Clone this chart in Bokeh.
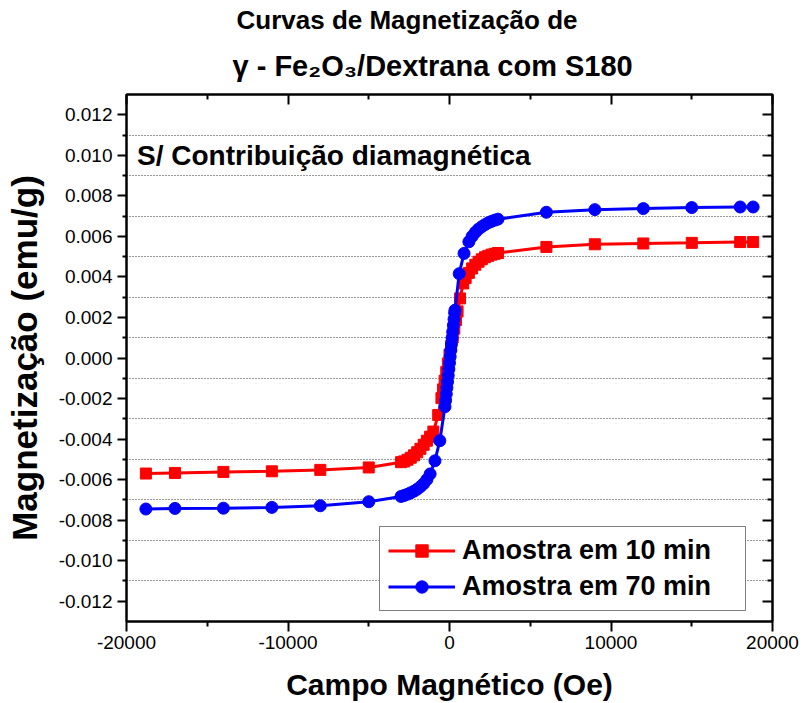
from bokeh.plotting import figure
from bokeh.models import (Range1d, LinearAxis, FixedTicker, PrintfTickFormatter,
                          CustomJSTickFormatter, Legend, LegendItem, Label, Title)
from bokeh.embed import file_html
from bokeh.resources import INLINE

# Magnetisation loops (emu/g vs Oe) for the two samples
field_10 = [-18800, -17000, -14000, -11000, -8000, -5000, -3000, -2800, -2600, -2400,
            -2200, -2000, -1800, -1600, -1400, -1200, -1000, -700, -500, -400, -300,
            -200, -100, 0, 100, 200, 300, 400, 500, 650, 850, 1000, 1200, 1400, 1600,
            1800, 2000, 2200, 2400, 2600, 2800, 3000, 6000, 9000, 12000, 15000, 18000, 18800]
mag_10 = [-0.00570, -0.00567, -0.00562, -0.00559, -0.00552, -0.00540, -0.00514, -0.00510,
          -0.00502, -0.00492, -0.00480, -0.00465, -0.00448, -0.00428, -0.00408, -0.00388,
          -0.00363, -0.00281, -0.00198, -0.00155, -0.00112, -0.00069, -0.00027, 0.00016,
          0.00059, 0.00102, 0.00145, 0.00187, 0.00230, 0.00294, 0.00368, 0.00395, 0.00420,
          0.00442, 0.00460, 0.00475, 0.00487, 0.00497, 0.00504, 0.00510, 0.00514, 0.00518,
          0.00548, 0.00561, 0.00565, 0.00568, 0.00572, 0.00572]

field_70 = [-18800, -17000, -14000, -11000, -8000, -5000, -3000, -2800, -2600, -2400,
            -2200, -2000, -1800, -1600, -1400, -1200, -900, -600, -280, -240, -200, -160,
            -120, -80, -40, 0, 40, 80, 120, 160, 200, 240, 280, 320, 340, 600, 900, 1200,
            1400, 1600, 1800, 2000, 2200, 2400, 2600, 2800, 3000, 6000, 9000, 12000, 15000,
            18000, 18800]
mag_70 = [-0.00745, -0.00742, -0.00741, -0.00737, -0.00729, -0.00709, -0.00683, -0.00678,
          -0.00672, -0.00665, -0.00657, -0.00647, -0.00635, -0.00620, -0.00600, -0.00572,
          -0.00507, -0.00408, -0.00240, -0.00209, -0.00178, -0.00147, -0.00117, -0.00086,
          -0.00055, -0.00024, 0.00007, 0.00038, 0.00068, 0.00099, 0.00130, 0.00161, 0.00191,
          0.00222, 0.00236, 0.00416, 0.00516, 0.00573, 0.00600, 0.00620, 0.00636, 0.00648,
          0.00658, 0.00667, 0.00674, 0.00680, 0.00685, 0.00719, 0.00732, 0.00737, 0.00742,
          0.00745, 0.00745]

series_labels = ["Amostra em 10 min", "Amostra em 70 min"]

x_ticks = [-20000, -10000, 0, 10000, 20000]
x_minor = [-15000, -5000, 5000, 15000]
y_ticks = [-0.012, -0.010, -0.008, -0.006, -0.004, -0.002, 0.000,
           0.002, 0.004, 0.006, 0.008, 0.010, 0.012]
y_minor = [-0.011, -0.009, -0.007, -0.005, -0.003, -0.001,
           0.001, 0.003, 0.005, 0.007, 0.009, 0.011]

FONT = "Liberation Sans"

p = figure(width=803, height=703, output_backend="svg", toolbar_location=None,
           title=None,
           x_range=Range1d(-20000, 20000), y_range=Range1d(-0.013, 0.013),
           min_border_left=126, min_border_right=31, min_border_top=94,
           min_border_bottom=81, background_fill_color="white",
           border_fill_color="white")

p.outline_line_color = "black"
p.outline_line_width = 2

xt = FixedTicker(ticks=x_ticks, minor_ticks=x_minor)
yt = FixedTicker(ticks=y_ticks, minor_ticks=y_minor)

# bottom axis
xa = p.xaxis[0]
xa.ticker = xt
xa.formatter = PrintfTickFormatter(format="%d")
xa.axis_label = "Campo Magnético (Oe)"
xa.axis_label_text_font = FONT
xa.axis_label_text_font_style = "bold"
xa.axis_label_text_font_size = "30px"
xa.axis_label_text_color = "black"
xa.axis_label_standoff = 16
xa.major_label_text_font = FONT
xa.major_label_text_font_size = "19px"
xa.major_label_text_color = "black"
xa.major_label_standoff = 4
xa.axis_line_width = 2
xa.major_tick_line_width = 2
xa.minor_tick_line_width = 2
xa.major_tick_out = 10
xa.major_tick_in = 0
xa.minor_tick_out = 5
xa.minor_tick_in = 0

# left axis
ya = p.yaxis[0]
ya.ticker = yt
ya.formatter = PrintfTickFormatter(format="%.3f")
ya.axis_label = "Magnetização (emu/g)"
ya.axis_label_text_font = FONT
ya.axis_label_text_font_style = "bold"
ya.axis_label_text_font_size = "35px"
ya.axis_label_text_color = "black"
ya.axis_label_standoff = 12
ya.major_label_text_font = FONT
ya.major_label_text_font_size = "19px"
ya.major_label_text_color = "black"
ya.major_label_standoff = 5
ya.axis_line_width = 2
ya.major_tick_line_width = 2
ya.minor_tick_line_width = 2
ya.major_tick_out = 9
ya.major_tick_in = 0
ya.minor_tick_out = 4
ya.minor_tick_in = 0

blank = CustomJSTickFormatter(code="return ''")

top = LinearAxis(ticker=xt, formatter=blank, axis_line_width=2,
                 major_tick_line_width=2, minor_tick_line_width=2,
                 major_tick_in=10, major_tick_out=0, minor_tick_in=5, minor_tick_out=0,
                 major_label_standoff=0, major_label_text_font_size="1px")
p.add_layout(top, "above")
right = LinearAxis(ticker=yt, formatter=blank, axis_line_width=2,
                   major_tick_line_width=2, minor_tick_line_width=2,
                   major_tick_in=10, major_tick_out=0, minor_tick_in=5, minor_tick_out=0,
                   major_label_standoff=0, major_label_text_font_size="1px")
p.add_layout(right, "right")

# dotted grid at the odd (minor) magnetisation values only
p.xgrid.visible = False
p.ygrid.grid_line_color = None
p.ygrid.minor_grid_line_color = "#333333"
p.ygrid.minor_grid_line_dash = "1 2"
p.ygrid.minor_grid_line_width = 1

# curves
l10 = p.line(field_10, mag_10, line_color="#FF0000", line_width=3)
s10 = p.scatter(field_10, mag_10, marker="square", size=11,
                fill_color="#FF0000", line_color="#FF0000")
l70 = p.line(field_70, mag_70, line_color="#0000FF", line_width=3)
s70 = p.scatter(field_70, mag_70, marker="circle", size=12,
                fill_color="#0000FF", line_color="#0000FF")

legend = Legend(items=[LegendItem(label=series_labels[0], renderers=[l10, s10]),
                       LegendItem(label=series_labels[1], renderers=[l70, s70])],
                location=(253, 10), orientation="vertical",
                label_text_font=FONT, label_text_font_style="bold",
                label_text_font_size="27px", label_text_color="black",
                label_standoff=7,
                glyph_width=67, glyph_height=31, label_height=31, label_width=275,
                spacing=5, padding=8, margin=0,
                border_line_color="black", border_line_width=1,
                background_fill_color="white", background_fill_alpha=1)
p.add_layout(legend)

# annotation inside the plot
p.add_layout(Label(x=-19350, y=0.0100, text="S/ Contribuição diamagnética",
                   text_font=FONT, text_font_style="bold", text_font_size="28px",
                   text_align="left", text_baseline="middle", text_color="black"))

# two-line heading above the frame (inner line first)
p.add_layout(Title(text="γ - Fe₂O₃/Dextrana com S180", align="left", offset=106,
                   text_font=FONT, text_font_style="bold", text_font_size="29px",
                   text_color="black", standoff=26), "above")
p.add_layout(Title(text="Curvas de Magnetização de", align="left", offset=110,
                   text_font=FONT, text_font_style="bold", text_font_size="26px",
                   text_color="black", standoff=-1), "above")

open("out.html", "w").write(file_html(p, INLINE))
